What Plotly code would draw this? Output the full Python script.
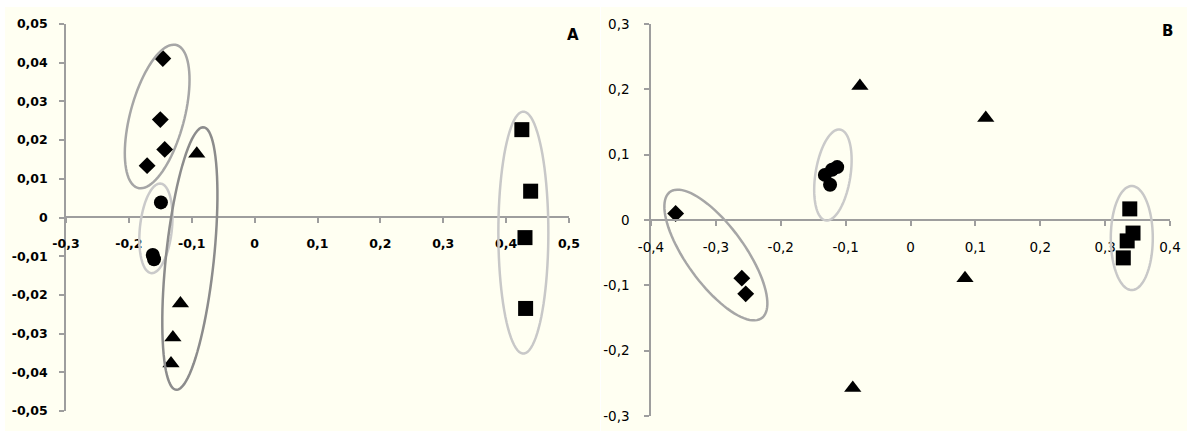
import numpy as np
import plotly.graph_objects as go

W, H = 1187, 431

# ---- panel A data ----
a_diamond_x = [-0.146, -0.150, -0.143, -0.171]
a_diamond_y = [0.0411, 0.0253, 0.0176, 0.0134]
a_circle_x = [-0.149, -0.162, -0.160]
a_circle_y = [0.0039, -0.0097, -0.0108]
a_triangle_x = [-0.092, -0.118, -0.130, -0.133]
a_triangle_y = [0.0165, -0.0222, -0.0310, -0.0377]
a_square_x = [0.425, 0.439, 0.430, 0.431]
a_square_y = [0.0227, 0.0068, -0.0052, -0.0235]

a_xticks = [-0.3, -0.2, -0.1, 0, 0.1, 0.2, 0.3, 0.4, 0.5]
a_xlabels = ["-0,3", "-0,2", "-0,1", "0", "0,1", "0,2", "0,3", "0,4", "0,5"]
a_yticks = [-0.05, -0.04, -0.03, -0.02, -0.01, 0, 0.01, 0.02, 0.03, 0.04, 0.05]
a_ylabels = ["-0,05", "-0,04", "-0,03", "-0,02", "-0,01", "0",
             "0,01", "0,02", "0,03", "0,04", "0,05"]

# ---- panel B data ----
b_diamond_x = [-0.362, -0.260, -0.254]
b_diamond_y = [0.010, -0.089, -0.113]
b_circle_x = [-0.132, -0.124, -0.121, -0.113]
b_circle_y = [0.069, 0.054, 0.077, 0.081]
b_triangle_x = [-0.078, 0.116, 0.084, -0.089]
b_triangle_y = [0.205, 0.156, -0.089, -0.257]
b_square_x = [0.338, 0.343, 0.334, 0.328]
b_square_y = [0.017, -0.020, -0.032, -0.058]

b_xticks = [-0.4, -0.3, -0.2, -0.1, 0, 0.1, 0.2, 0.3, 0.4]
b_xlabels = ["-0,4", "-0,3", "-0,2", "-0,1", "0", "0,1", "0,2", "0,3", "0,4"]
b_yticks = [-0.3, -0.2, -0.1, 0, 0.1, 0.2, 0.3]
b_ylabels = ["-0,3", "-0,2", "-0,1", "0", "0,1", "0,2", "0,3"]

# group ellipses: centre (data), half length / half width (px), tilt (deg)
a_ellipses = [
    dict(cx=-0.155, cy=0.0261, ry=74, rx=27, tilt=15, color="#A6A6A6"),
    dict(cx=-0.157, cy=-0.0028, ry=45, rx=16, tilt=6, color="#CACACA"),
    dict(cx=-0.103, cy=-0.0106, ry=132, rx=24, tilt=6, color="#8C8C8C"),
    dict(cx=0.4274, cy=-0.0039, ry=121, rx=25, tilt=0, color="#C8C8C8"),
]
b_ellipses = [
    dict(cx=-0.300, cy=-0.0536, ry=78, rx=29, tilt=-36, color="#A6A6A6"),
    dict(cx=-0.1196, cy=0.0689, ry=46, rx=17.5, tilt=9, color="#CACACA"),
    dict(cx=0.3411, cy=-0.0276, ry=52, rx=21, tilt=0, color="#C8C8C8"),
]

# pixel layout of the two plot areas
A_X0, A_X1, A_Y0, A_Y1, A_ZERO = 66, 569, 24, 411, 217
B_X0, B_X1, B_Y0, B_Y1, B_ZERO = 651, 1170, 24, 416, 220


def px(x):
    return x / W


def py(y):
    return 1 - y / H


def ellipse_path(e, sx, sy):
    t = np.linspace(0, 2 * np.pi, 91)
    u = e["rx"] * np.cos(t)
    v = e["ry"] * np.sin(t)
    th = np.radians(e["tilt"])
    dx = u * np.cos(th) + v * np.sin(th)
    dy = -u * np.sin(th) + v * np.cos(th)
    xs = e["cx"] + dx / sx
    ys = e["cy"] + dy / sy
    return "M " + " L ".join(f"{x:.5f},{y:.6f}" for x, y in zip(xs, ys)) + " Z"


fig = go.Figure()

marker_specs = [("diamond", 13), ("circle", 14), ("triangle-up", 15), ("square", 15)]
a_sets = [(a_diamond_x, a_diamond_y), (a_circle_x, a_circle_y),
          (a_triangle_x, a_triangle_y), (a_square_x, a_square_y)]
b_sets = [(b_diamond_x, b_diamond_y), (b_circle_x, b_circle_y),
          (b_triangle_x, b_triangle_y), (b_square_x, b_square_y)]

for (sym, size), (xs, ys) in zip(marker_specs, a_sets):
    fig.add_trace(go.Scatter(x=xs, y=ys, mode="markers", xaxis="x", yaxis="y",
                             marker=dict(symbol=sym, size=size, color="black"),
                             showlegend=False, cliponaxis=False))
for (sym, size), (xs, ys) in zip(marker_specs, b_sets):
    fig.add_trace(go.Scatter(x=xs, y=ys, mode="markers", xaxis="x2", yaxis="y2",
                             marker=dict(symbol=sym, size=size, color="black"),
                             showlegend=False, cliponaxis=False))

shapes = [
    # cream plot backgrounds
    dict(type="rect", xref="paper", yref="paper", x0=px(5), x1=px(600), y0=0, y1=py(7),
         fillcolor="#FFFFF2", line_width=0, layer="below"),
    dict(type="rect", xref="paper", yref="paper", x0=px(601), x1=1, y0=0, y1=py(7),
         fillcolor="#FFFFF2", line_width=0, layer="below"),
]

sxa = (A_X1 - A_X0) / 0.8
sya = (A_Y1 - A_Y0) / 0.1
sxb = (B_X1 - B_X0) / 0.8
syb = (B_Y1 - B_Y0) / 0.6
for e in a_ellipses:
    shapes.append(dict(type="path", xref="x", yref="y", path=ellipse_path(e, sxa, sya),
                       line=dict(color=e["color"], width=2.5)))
for e in b_ellipses:
    shapes.append(dict(type="path", xref="x2", yref="y2", path=ellipse_path(e, sxb, syb),
                       line=dict(color=e["color"], width=2.5)))

axis_line = dict(showline=True, linecolor="#9E9E9E", linewidth=1.5, ticks="outside",
                 ticklen=5, tickcolor="#9E9E9E", tickwidth=1.5, showgrid=False,
                 zeroline=False, automargin=False)
font_a = dict(family="DejaVu Sans", size=12.5, color="black", weight="bold")
font_b = dict(family="DejaVu Sans", size=13.5, color="black")

fig.update_layout(
    width=W, height=H,
    margin=dict(l=0, r=0, t=0, b=0, pad=0, autoexpand=False),
    paper_bgcolor="white",
    plot_bgcolor="rgba(0,0,0,0)",
    shapes=shapes,
    xaxis=dict(domain=[px(A_X0), px(A_X1)], range=[-0.3, 0.5], anchor="free",
               position=py(A_ZERO), tickvals=a_xticks, ticktext=a_xlabels,
               tickfont=font_a, ticklabelstandoff=10, **axis_line),
    yaxis=dict(domain=[py(A_Y1), py(A_Y0)], range=[-0.05, 0.05], anchor="x",
               tickvals=a_yticks, ticktext=a_ylabels, tickfont=font_a,
               ticklabelstandoff=9, **axis_line),
    xaxis2=dict(domain=[px(B_X0), px(B_X1)], range=[-0.4, 0.4], anchor="free",
                position=py(B_ZERO), tickvals=b_xticks, ticktext=b_xlabels,
                tickfont=font_b, ticklabelstandoff=10, **axis_line),
    yaxis2=dict(domain=[py(B_Y1), py(B_Y0)], range=[-0.3, 0.3], anchor="x2",
                tickvals=b_yticks, ticktext=b_ylabels, tickfont=font_b,
                ticklabelstandoff=12, **axis_line),
    annotations=[
        dict(text="<b>A</b>", xref="paper", yref="paper", x=px(573), y=py(35),
             yanchor="middle", xanchor="center", showarrow=False,
             font=dict(family="DejaVu Sans", size=15, color="black")),
        dict(text="<b>B</b>", xref="paper", yref="paper", x=px(1167), y=py(31),
             yanchor="middle", xanchor="center", showarrow=False,
             font=dict(family="DejaVu Sans", size=15, color="black")),
    ],
)

fig.write_html("out.html", config={"displayModeBar": False},
               post_script="document.body.style.margin='0';")
